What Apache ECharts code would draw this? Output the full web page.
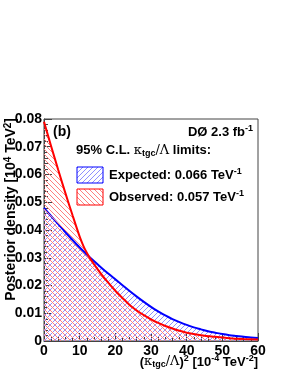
<!DOCTYPE html>
<html><head><meta charset="utf-8">
<script src="https://cdn.jsdelivr.net/npm/echarts@6/dist/echarts.min.js"></script>
<style>html,body{margin:0;padding:0;background:#fff}#c{width:291px;height:376px}</style>
</head><body><div id="c"></div>
<script>
// Data
const xTicks = [0, 10, 20, 30, 40, 50, 60];
const yTicks = [0, 0.01, 0.02, 0.03, 0.04, 0.05, 0.06, 0.07, 0.08];
const obsX = [0, 2, 4, 6, 8, 10, 11, 12, 13, 14, 16, 18, 20, 22, 24, 26, 28, 30, 32, 34, 36, 38, 40, 44, 48, 52, 56, 60];
const obsY = [0.079, 0.0702, 0.0616, 0.0533, 0.0453, 0.0376, 0.0344, 0.0318, 0.0296, 0.0277, 0.0242, 0.021, 0.0181, 0.0155, 0.013, 0.011, 0.0093, 0.0078, 0.0065, 0.0054, 0.0045, 0.0037, 0.003, 0.0021, 0.0015, 0.001, 0.0007, 0.0005];
const expX = [0, 2, 4, 6, 8, 10, 12, 14, 16, 18, 20, 22, 24, 26, 28, 30, 32, 34, 36, 38, 40, 42, 44, 46, 48, 50, 52, 54, 56, 58, 60];
const expY = [0.048, 0.045, 0.0421, 0.0392, 0.0364, 0.0337, 0.0312, 0.0288, 0.0265, 0.0243, 0.0222, 0.0201, 0.018, 0.016, 0.0141, 0.0123, 0.0107, 0.0092, 0.0079, 0.0068, 0.0058, 0.0049, 0.0042, 0.0035, 0.003, 0.0025, 0.0021, 0.0018, 0.0015, 0.0013, 0.0011];

function hatch(color, dir) {
  const s = 5, c = document.createElement('canvas');
  c.width = s; c.height = s;
  const g = c.getContext('2d');
  g.fillStyle = color;
  for (let i = 0; i < s; i++) {
    g.fillRect(i, dir === '/' ? s - 1 - i : i, 1, 1);
  }
  return c;
}
const blueHatch = hatch('#8f8fff', '/');
const redHatch = hatch('#ff7f7f', '\\');

const F = 'Liberation Sans, Arial, sans-serif';
const zip = (a, b) => a.map((v, i) => [v, b[i]]);

const chart = echarts.init(document.getElementById('c'), null, {renderer: 'canvas'});
const base = {fontFamily: F, fontWeight: 'bold', fontSize: 13, color: '#000'};
const rich = {
  sup: {fontFamily: F, fontWeight: 'bold', fontSize: 9, color: '#000', verticalAlign: 'top', padding: [0, 0, 7, 0]},
  sub: {fontFamily: F, fontWeight: 'bold', fontSize: 9, color: '#000', padding: [6, 0, 0, 0]},
  g: {fontFamily: 'DejaVu Serif, serif', fontWeight: 'normal', fontSize: 13, color: '#000'}
};
const richY = {
  sup: {fontFamily: F, fontWeight: 'bold', fontSize: 10, color: '#000', verticalAlign: 'top', padding: [0, 0, 7, 0]}
};

chart.setOption({
  animation: false,
  backgroundColor: '#fff',
  grid: {left: 44, top: 119, right: 33, bottom: 35, show: true, borderColor: '#444', borderWidth: 1, backgroundColor: 'transparent'},
  xAxis: {
    type: 'value', min: xTicks[0], max: xTicks[xTicks.length - 1], interval: 10,
    axisLine: {show: true, lineStyle: {color: '#444', width: 1}},
    axisTick: {show: true, inside: true, length: 8, lineStyle: {color: '#444'}},
    minorTick: {show: true, splitNumber: 5, length: 4, lineStyle: {color: '#444'}},
    splitLine: {show: false},
    axisLabel: {fontFamily: F, fontWeight: 'bold', fontSize: 14, color: '#000', margin: 3,
      formatter: v => xTicks.includes(v) ? String(v) : ''}
  },
  yAxis: {
    type: 'value', min: yTicks[0], max: yTicks[yTicks.length - 1], interval: 0.01,
    axisLine: {show: true, lineStyle: {color: '#444', width: 1}},
    axisTick: {show: true, inside: true, length: 8, lineStyle: {color: '#444'}},
    minorTick: {show: true, splitNumber: 5, length: 4, lineStyle: {color: '#444'}},
    splitLine: {show: false},
    axisLabel: {fontFamily: F, fontWeight: 'bold', fontSize: 14, color: '#000', margin: 2,
      formatter: v => v === 0 ? '0' : v.toFixed(2)}
  },
  series: [
    {type: 'line', name: 'Expected', data: zip(expX, expY), smooth: 0.3, symbol: 'none',
      lineStyle: {color: '#0000ff', width: 2},
      areaStyle: {color: {image: blueHatch, repeat: 'repeat'}, opacity: 1, origin: 'start'}, z: 2},
    {type: 'line', name: 'Observed', data: zip(obsX, obsY), smooth: 0.3, symbol: 'none',
      lineStyle: {color: '#ff0000', width: 2},
      areaStyle: {color: {image: redHatch, repeat: 'repeat'}, opacity: 1, origin: 'start'}, z: 3}
  ],
  graphic: [
    {type: 'text', left: 53, top: 125, style: Object.assign({}, base, {text: '(b)', fontSize: 14})},
    {type: 'text', right: 38, top: 124, style: Object.assign({}, base, {text: 'DØ 2.3 fb{sup|-1}', rich: rich})},
    {type: 'text', left: 76, top: 144, style: Object.assign({}, base, {text: '95% C.L. {g|κ}{sub|tgc}{g|/Λ} limits:', rich: rich})},
    {type: 'rect', shape: {x: 77, y: 167, width: 26, height: 16}, style: {fill: {image: blueHatch, repeat: 'repeat'}, stroke: '#0000ff', lineWidth: 1}},
    {type: 'rect', shape: {x: 77, y: 189, width: 26, height: 16}, style: {fill: {image: redHatch, repeat: 'repeat'}, stroke: '#ff0000', lineWidth: 1}},
    {type: 'text', left: 109, top: 167, style: Object.assign({}, base, {text: 'Expected: 0.066 TeV{sup|-1}', rich: rich})},
    {type: 'text', left: 109, top: 189, style: Object.assign({}, base, {text: 'Observed: 0.057 TeV{sup|-1}', rich: rich})},
    {type: 'text', right: 33, top: 354, style: Object.assign({}, base, {text: '({g|κ}{sub|tgc}{g|/Λ}){sup|2} [10{sup|-4} TeV{sup|-2}]', rich: rich})},
    {type: 'text', x: 3, y: 118, rotation: Math.PI / 2, style: Object.assign({}, base, {fontSize: 14, text: 'Posterior density [10{sup|4} TeV{sup|2}]', rich: richY, align: 'right', verticalAlign: 'top'})}
  ]
});
</script></body></html>
